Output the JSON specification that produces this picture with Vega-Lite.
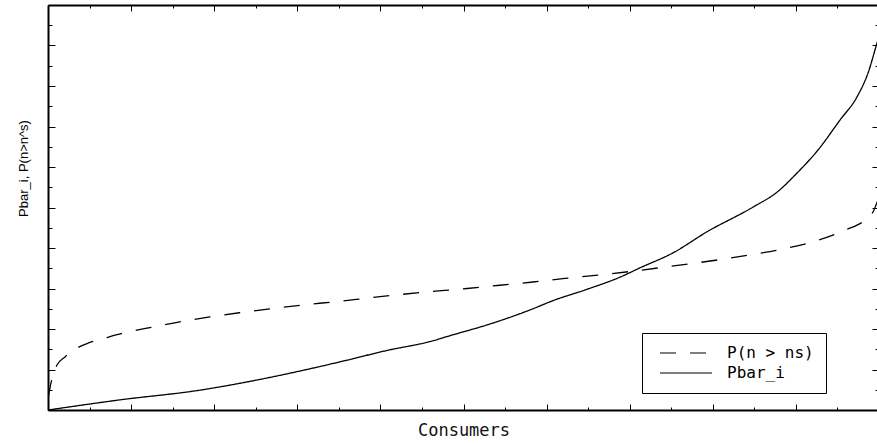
{
  "$schema": "https://vega.github.io/schema/vega-lite/v6.json",
  "width": 831,
  "height": 405,
  "autosize": {"type": "none"},
  "padding": {"left": 48, "top": 5, "right": 0, "bottom": 34},
  "background": "white",
  "config": {
    "view": {"stroke": null},
    "axis": {"domainColor": "black", "domainWidth": 2, "tickColor": "black", "tickWidth": 1, "labels": false, "grid": false}
  },
  "datasets": {
    "curves": [
      {"consumers": 0, "p": 0, "series": "Pbar_i"},
      {"consumers": 86.6, "p": 0.025, "series": "Pbar_i"},
      {"consumers": 182.9, "p": 0.049, "series": "Pbar_i"},
      {"consumers": 258.7, "p": 0.077, "series": "Pbar_i"},
      {"consumers": 309.3, "p": 0.099, "series": "Pbar_i"},
      {"consumers": 359.8, "p": 0.123, "series": "Pbar_i"},
      {"consumers": 407.9, "p": 0.147, "series": "Pbar_i"},
      {"consumers": 459.7, "p": 0.169, "series": "Pbar_i"},
      {"consumers": 486.2, "p": 0.185, "series": "Pbar_i"},
      {"consumers": 528.3, "p": 0.21, "series": "Pbar_i"},
      {"consumers": 580.0, "p": 0.247, "series": "Pbar_i"},
      {"consumers": 607.7, "p": 0.27, "series": "Pbar_i"},
      {"consumers": 648.6, "p": 0.298, "series": "Pbar_i"},
      {"consumers": 688.3, "p": 0.328, "series": "Pbar_i"},
      {"consumers": 712.4, "p": 0.351, "series": "Pbar_i"},
      {"consumers": 752.1, "p": 0.388, "series": "Pbar_i"},
      {"consumers": 793.0, "p": 0.44, "series": "Pbar_i"},
      {"consumers": 848.4, "p": 0.501, "series": "Pbar_i"},
      {"consumers": 877.3, "p": 0.538, "series": "Pbar_i"},
      {"consumers": 901.3, "p": 0.585, "series": "Pbar_i"},
      {"consumers": 926.6, "p": 0.642, "series": "Pbar_i"},
      {"consumers": 953.1, "p": 0.716, "series": "Pbar_i"},
      {"consumers": 973.5, "p": 0.773, "series": "Pbar_i"},
      {"consumers": 986.8, "p": 0.832, "series": "Pbar_i"},
      {"consumers": 997.6, "p": 0.906, "series": "Pbar_i"},
      {"consumers": 1000, "p": 0.922, "series": "Pbar_i"},
      {"consumers": 0.5, "p": 0.035, "series": "P(n > ns)"},
      {"consumers": 1.2, "p": 0.042, "series": "P(n > ns)"},
      {"consumers": 3.6, "p": 0.067, "series": "P(n > ns)"},
      {"consumers": 6.0, "p": 0.084, "series": "P(n > ns)"},
      {"consumers": 10.8, "p": 0.111, "series": "P(n > ns)"},
      {"consumers": 20.5, "p": 0.131, "series": "P(n > ns)"},
      {"consumers": 34.9, "p": 0.153, "series": "P(n > ns)"},
      {"consumers": 48.1, "p": 0.165, "series": "P(n > ns)"},
      {"consumers": 65.0, "p": 0.175, "series": "P(n > ns)"},
      {"consumers": 83.0, "p": 0.186, "series": "P(n > ns)"},
      {"consumers": 119.1, "p": 0.202, "series": "P(n > ns)"},
      {"consumers": 154.0, "p": 0.216, "series": "P(n > ns)"},
      {"consumers": 194.9, "p": 0.23, "series": "P(n > ns)"},
      {"consumers": 233.5, "p": 0.241, "series": "P(n > ns)"},
      {"consumers": 272.0, "p": 0.251, "series": "P(n > ns)"},
      {"consumers": 309.3, "p": 0.26, "series": "P(n > ns)"},
      {"consumers": 349.0, "p": 0.268, "series": "P(n > ns)"},
      {"consumers": 387.5, "p": 0.277, "series": "P(n > ns)"},
      {"consumers": 447.7, "p": 0.29, "series": "P(n > ns)"},
      {"consumers": 504.2, "p": 0.3, "series": "P(n > ns)"},
      {"consumers": 543.9, "p": 0.308, "series": "P(n > ns)"},
      {"consumers": 583.6, "p": 0.316, "series": "P(n > ns)"},
      {"consumers": 622.1, "p": 0.325, "series": "P(n > ns)"},
      {"consumers": 661.9, "p": 0.333, "series": "P(n > ns)"},
      {"consumers": 700.4, "p": 0.342, "series": "P(n > ns)"},
      {"consumers": 738.9, "p": 0.352, "series": "P(n > ns)"},
      {"consumers": 776.2, "p": 0.362, "series": "P(n > ns)"},
      {"consumers": 817.1, "p": 0.374, "series": "P(n > ns)"},
      {"consumers": 850.8, "p": 0.385, "series": "P(n > ns)"},
      {"consumers": 885.7, "p": 0.398, "series": "P(n > ns)"},
      {"consumers": 923.0, "p": 0.417, "series": "P(n > ns)"},
      {"consumers": 959.1, "p": 0.444, "series": "P(n > ns)"},
      {"consumers": 983.2, "p": 0.469, "series": "P(n > ns)"},
      {"consumers": 992.8, "p": 0.489, "series": "P(n > ns)"},
      {"consumers": 998.8, "p": 0.519, "series": "P(n > ns)"}
    ]
  },
  "data": {"name": "curves"},
  "resolve": {"axis": {"x": "independent", "y": "independent"}},
  "layer": [
    {
      "transform": [{"filter": "datum.series === 'Pbar_i'"}],
      "mark": {"type": "line", "color": "black", "strokeWidth": 1.3, "interpolate": "monotone"},
      "encoding": {
        "x": {
          "field": "consumers", "type": "quantitative",
          "scale": {"domain": [0, 1000], "nice": false, "zero": false},
          "axis": {
            "orient": "bottom", "title": "Consumers",
            "titleFont": "DejaVu Sans Mono", "titleFontSize": 17, "titleFontWeight": "normal", "titleColor": "#111",
            "titlePadding": 12,
            "values": [0,50,100,150,200,250,300,350,400,450,500,550,600,650,700,750,800,850,900,950,1000],
            "tickSize": {"condition": {"test": "datum.value % 100 === 0", "value": -6}, "value": -3}
          }
        },
        "y": {
          "field": "p", "type": "quantitative",
          "scale": {"domain": [0, 1], "nice": false},
          "axis": {
            "orient": "left", "title": "Pbar_i, P(n>n^s)",
            "titleFont": "Liberation Sans", "titleFontSize": 13, "titleFontWeight": "normal", "titleColor": "black",
            "titlePadding": 17, "titleY": 163,
            "values": [0,0.05,0.1,0.15,0.2,0.25,0.3,0.35,0.4,0.45,0.5,0.55,0.6,0.65,0.7,0.75,0.8,0.85,0.9,0.95,1],
            "tickSize": {"condition": {"test": "abs(datum.value*10 - round(datum.value*10)) < 0.001", "value": -7}, "value": -4}
          }
        },
        "strokeDash": {
          "field": "series", "type": "nominal",
          "scale": {"domain": ["P(n > ns)", "Pbar_i"], "range": [[16, 14], [1, 0]]},
          "legend": {
            "orient": "none", "legendX": 594, "legendY": 328,
            "title": null, "strokeColor": "black", "fillColor": "white", "padding": 12,
            "symbolType": "M-5.2,0H5.2", "symbolSize": 100, "symbolOffset": 24,
            "symbolStrokeColor": "black", "symbolStrokeWidth": 1.2,
            "labelOffset": 33, "labelFont": "DejaVu Sans Mono", "labelFontSize": 16, "labelColor": "black",
            "rowPadding": 4
          }
        }
      }
    },
    {
      "transform": [{"filter": "datum.series === 'P(n > ns)'"}],
      "mark": {"type": "line", "color": "black", "strokeWidth": 1.3, "interpolate": "monotone"},
      "encoding": {
        "x": {
          "field": "consumers", "type": "quantitative",
          "scale": {"domain": [0, 1000], "nice": false, "zero": false},
          "axis": {
            "orient": "top", "title": null,
            "values": [0,50,100,150,200,250,300,350,400,450,500,550,600,650,700,750,800,850,900,950,1000],
            "tickSize": {"condition": {"test": "datum.value % 100 === 0", "value": -6}, "value": -3}
          }
        },
        "y": {
          "field": "p", "type": "quantitative",
          "scale": {"domain": [0, 1], "nice": false},
          "axis": {
            "orient": "right", "title": null,
            "values": [0,0.05,0.1,0.15,0.2,0.25,0.3,0.35,0.4,0.45,0.5,0.55,0.6,0.65,0.7,0.75,0.8,0.85,0.9,0.95,1],
            "tickSize": {"condition": {"test": "abs(datum.value*10 - round(datum.value*10)) < 0.001", "value": -7}, "value": -4}
          }
        },
        "strokeDash": {"field": "series", "type": "nominal"}
      }
    }
  ]
}
